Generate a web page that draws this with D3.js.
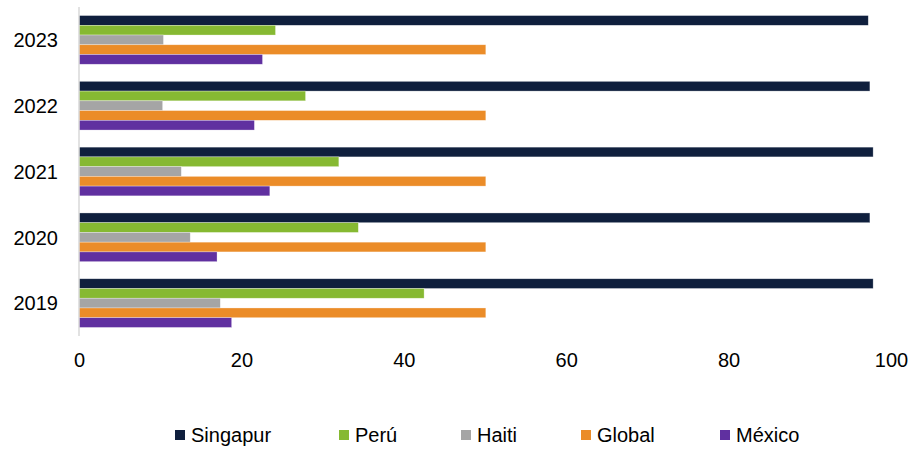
<!DOCTYPE html>
<html>
<head>
<meta charset="utf-8">
<script src="https://cdn.jsdelivr.net/npm/d3@7"></script>
<style>
  body { margin: 0; background: #fff; }
  text { font-family: "Liberation Sans", Arial, sans-serif; fill: #000; }
</style>
</head>
<body>
<div id="chart"></div>
<script>
var years = ["2023", "2022", "2021", "2020", "2019"];
var series_names = ["Singapur", "Perú", "Haiti", "Global", "México"];
var series_colors = ["#0f1f3d", "#86b932", "#a5a5a5", "#eb8c28", "#6030a0"];

// values per series, in the same order as years
var singapur = [97.2, 97.4, 97.8, 97.4, 97.8];
var peru     = [24.2, 27.9, 32.0, 34.4, 42.5];
var haiti    = [10.4, 10.3, 12.6, 13.7, 17.4];
var global   = [50.1, 50.1, 50.1, 50.1, 50.1];
var mexico   = [22.6, 21.6, 23.5, 17.0, 18.8];
var series_values = [singapur, peru, haiti, global, mexico];

var x_ticks = [0, 20, 40, 60, 80, 100];

var width = 914, height = 449;
var margin = { left: 79, top: 7, bottom: 114 };
var font_size = 20;

var svg = d3.select("#chart").append("svg")
    .attr("width", width)
    .attr("height", height);

var x = d3.scaleLinear()
    .domain([0, 100])
    .range([margin.left, margin.left + 812]);

var y = d3.scaleBand()
    .domain(years)
    .range([margin.top, height - margin.bottom + 1])
    .paddingInner(0.26)
    .paddingOuter(0.13);

var y_inner = d3.scaleBand()
    .domain(series_names)
    .range([0, y.bandwidth()]);

// Bars
for (var s = 0; s < series_names.length; ++s) {
    var vals = series_values[s];
    svg.append("g")
        .selectAll("rect")
        .data(years)
        .join("rect")
            .attr("x", x(0))
            .attr("y", function(d) { return y(d) + y_inner(series_names[s]); })
            .attr("width", function(d, i) { return x(vals[i]) - x(0); })
            .attr("height", y_inner.bandwidth())
            .attr("fill", series_colors[s])
            .attr("stroke", "#ffffff")
            .attr("stroke-opacity", 0.5)
            .attr("stroke-width", 0.6);
}

// Vertical axis line
svg.append("line")
    .attr("x1", x(0)).attr("x2", x(0))
    .attr("y1", margin.top).attr("y2", height - margin.bottom + 1)
    .attr("stroke", "#d9d9d9")
    .attr("stroke-width", 1.5);

// Year labels
svg.append("g")
    .selectAll("text")
    .data(years)
    .join("text")
        .attr("x", 58)
        .attr("y", function(d) { return y(d) + y.bandwidth() / 2; })
        .attr("dy", "0.36em")
        .attr("text-anchor", "end")
        .attr("font-size", font_size)
        .text(function(d) { return d; });

// X tick labels
var x_axis = d3.axisBottom(x).tickValues(x_ticks).tickSize(0).tickPadding(0);
var xg = svg.append("g")
    .attr("transform", "translate(0," + 366.5 + ")")
    .call(x_axis);
xg.select(".domain").remove();
xg.selectAll("text")
    .attr("font-size", font_size)
    .attr("font-family", "Liberation Sans, Arial, sans-serif")
    .attr("fill", "#000")
    .attr("dy", "0");

// Legend
var legend_x = [175, 339, 461, 581, 720];
var legend = svg.append("g")
    .selectAll("g")
    .data(series_names)
    .join("g")
        .attr("transform", function(d, i) { return "translate(" + legend_x[i] + "," + 441.5 + ")"; });

legend.append("rect")
    .attr("x", 0).attr("y", -11.5)
    .attr("width", 10).attr("height", 10)
    .attr("fill", function(d, i) { return series_colors[i]; });

legend.append("text")
    .attr("x", 16)
    .attr("y", 0)
    .attr("font-size", font_size)
    .text(function(d) { return d; });
</script>
</body>
</html>
